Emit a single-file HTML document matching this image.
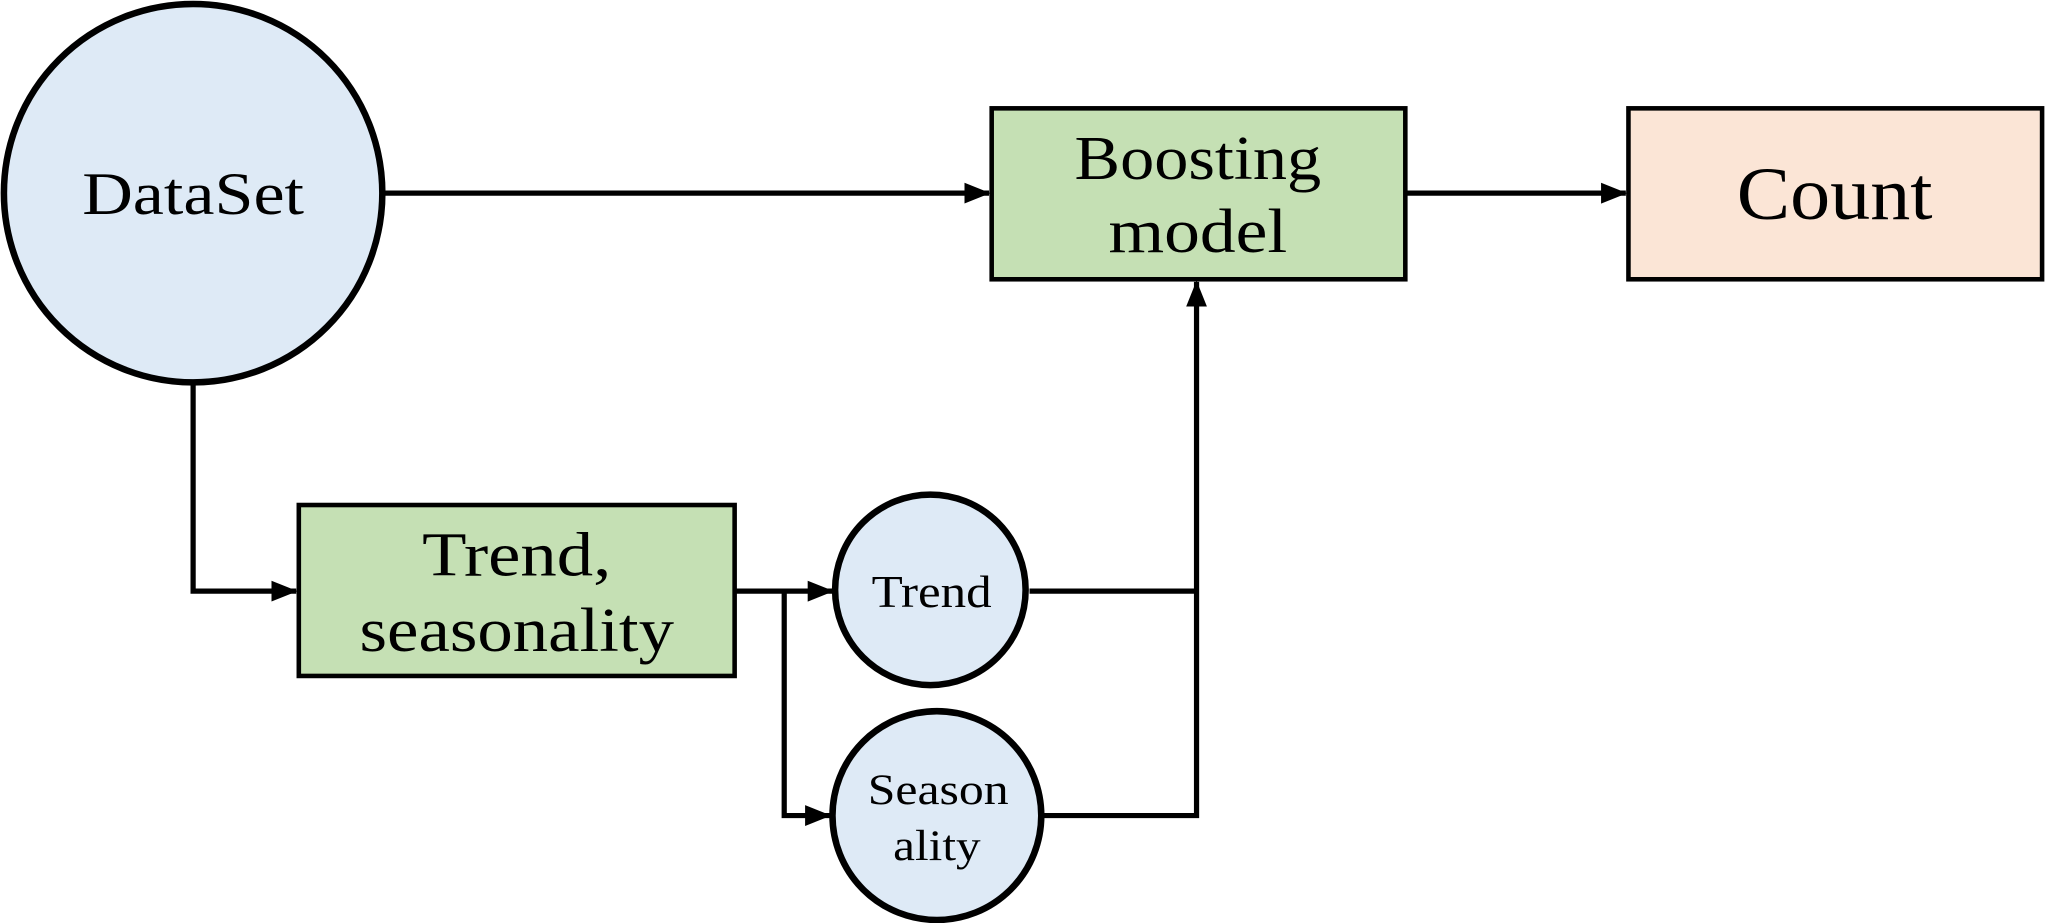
<!DOCTYPE html>
<html><head><meta charset="utf-8"><style>
html,body{margin:0;padding:0;background:#fff;width:2046px;height:923px;overflow:hidden}
svg{display:block}
text{font-family:"Liberation Serif",serif;fill:#000;text-anchor:middle}
</style></head><body>
<svg width="2046" height="923" viewBox="0 0 1568 707.3" xmlns="http://www.w3.org/2000/svg">
<defs>
<marker id="b" markerWidth="20" markerHeight="20" refX="19" refY="10" orient="auto" markerUnits="userSpaceOnUse"><path d="M0,2 L20,10 L0,18 z" fill="#000"/></marker></defs>
<g stroke="#000" stroke-width="4" fill="none">
<line x1="295" y1="148" x2="758" y2="148" marker-end="url(#b)"/>
<line x1="1078" y1="148" x2="1246" y2="148" marker-end="url(#b)"/>
<polyline points="148,293 148,453 227,453" marker-end="url(#b)"/>
<line x1="563" y1="453" x2="638" y2="453" marker-end="url(#b)"/>
<polyline points="601,453 601,625 636,625" marker-end="url(#b)"/>
<polyline points="789,453 917,453"/>
<polyline points="800,625 917,625 917,216" marker-end="url(#b)"/>
</g>
<circle cx="148" cy="148" r="145" fill="#deeaf6" stroke="#000" stroke-width="5"/>
<rect x="760" y="83" width="317" height="131" fill="#c5e0b4" stroke="#000" stroke-width="3.5"/>
<rect x="1248" y="83" width="317" height="131" fill="#fbe5d6" stroke="#000" stroke-width="3.5"/>
<rect x="229" y="387" width="334" height="131" fill="#c5e0b4" stroke="#000" stroke-width="3.5"/>
<circle cx="713" cy="452" r="73" fill="#deeaf6" stroke="#000" stroke-width="5"/>
<circle cx="718" cy="625" r="80" fill="#deeaf6" stroke="#000" stroke-width="5"/>
<g lengthAdjust="spacingAndGlyphs">
<text x="148" y="164" font-size="46" textLength="170" lengthAdjust="spacingAndGlyphs">DataSet</text>
<text x="918" y="137" font-size="48" textLength="189" lengthAdjust="spacingAndGlyphs">Boosting</text>
<text x="918" y="193" font-size="48" textLength="137" lengthAdjust="spacingAndGlyphs">model</text>
<text x="1406" y="168" font-size="58" textLength="150" lengthAdjust="spacingAndGlyphs">Count</text>
<text x="396" y="441" font-size="48" textLength="145" lengthAdjust="spacingAndGlyphs">Trend,</text>
<text x="396" y="499" font-size="48" textLength="241" lengthAdjust="spacingAndGlyphs">seasonality</text>
<text x="714" y="465" font-size="35" textLength="92" lengthAdjust="spacingAndGlyphs">Trend</text>
<text x="719" y="616" font-size="33" textLength="108" lengthAdjust="spacingAndGlyphs">Season</text>
<text x="718" y="659" font-size="33" textLength="67" lengthAdjust="spacingAndGlyphs">ality</text>
</g>
</svg>
</body></html>
